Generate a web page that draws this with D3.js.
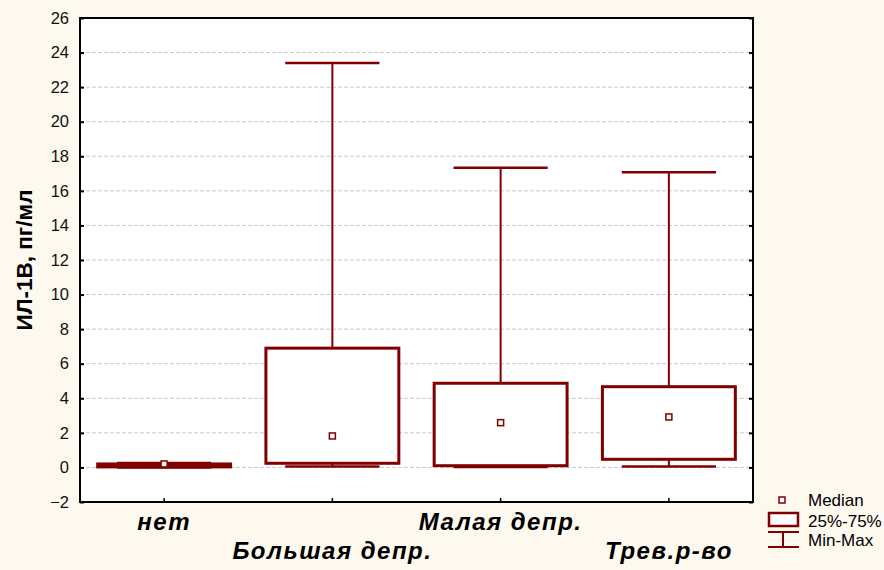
<!DOCTYPE html>
<html>
<head>
<meta charset="utf-8">
<script src="https://cdn.jsdelivr.net/npm/d3@7"></script>
<style>
  body { margin: 0; background: #fdf9ef; }
  svg { display: block; font-family: "Liberation Sans", Arial, sans-serif; }
</style>
</head>
<body>
<script>
// Data
const categories = ["нет", "Большая депр.", "Малая депр.", "Трев.р-во"];
const minVals = [0.0, 0.05, 0.03, 0.05];
const q1Vals = [0.03, 0.24, 0.1, 0.47];
const medianVals = [0.2, 1.82, 2.59, 2.92];
const q3Vals = [0.2, 6.9, 4.87, 4.67];
const maxVals = [0.25, 23.4, 17.34, 17.07];
const yTicks = [-2, 0, 2, 4, 6, 8, 10, 12, 14, 16, 18, 20, 22, 24, 26];

const width = 884, height = 570;
const plot = {left: 80, right: 753, top: 18, bottom: 502};
const red = "#800000";

const data = categories.map((c, i) => ({
    cat: c, min: minVals[i], q1: q1Vals[i], med: medianVals[i], q3: q3Vals[i], max: maxVals[i]
}));

const svg = d3.select("body").append("svg")
    .attr("width", width)
    .attr("height", height);

// X and Y scales
const xScale = d3.scaleBand()
    .domain(categories)
    .range([plot.left, plot.right]);
const yScale = d3.scaleLinear()
    .domain([-2, 26])
    .range([plot.bottom, plot.top]);

const boxW = xScale.bandwidth() * 0.79;
const capW = xScale.bandwidth() * 0.56;

// Plot background
svg.append("rect")
    .attr("x", plot.left).attr("y", plot.top)
    .attr("width", plot.right - plot.left).attr("height", plot.bottom - plot.top)
    .attr("fill", "#fff");

// Grid lines
svg.append("g")
    .selectAll("line")
    .data(yTicks.filter(t => t > -2 && t < 26))
    .enter().append("line")
    .attr("x1", plot.left).attr("x2", plot.right)
    .attr("y1", d => yScale(d)).attr("y2", d => yScale(d))
    .attr("stroke", "#c8c8c8")
    .attr("stroke-dasharray", "4,2");

// Left axis
const yAxis = svg.append("g")
    .attr("transform", "translate(" + plot.left + ",0)")
    .call(d3.axisLeft(yScale).tickValues(yTicks).tickSize(-4).tickPadding(11));
yAxis.select(".domain").remove();
yAxis.selectAll(".tick line").attr("stroke", "#000").attr("stroke-width", 2);
yAxis.selectAll(".tick text")
    .attr("font-size", 16.5)
    .attr("font-family", "Liberation Sans, Arial, sans-serif")
    .attr("fill", "#111");

// Right axis ticks
const yAxisR = svg.append("g")
    .attr("transform", "translate(" + plot.right + ",0)")
    .call(d3.axisRight(yScale).tickValues(yTicks).tickSize(-4).tickFormat(""));
yAxisR.select(".domain").remove();
yAxisR.selectAll(".tick line").attr("stroke", "#000").attr("stroke-width", 2);

// Bottom axis ticks (inward)
const xAxis = svg.append("g")
    .attr("transform", "translate(0," + plot.bottom + ")")
    .call(d3.axisBottom(xScale).tickSize(-4).tickFormat(""));
xAxis.select(".domain").remove();
xAxis.selectAll(".tick line").attr("stroke", "#000").attr("stroke-width", 1.5);

// Frame
svg.append("rect")
    .attr("x", plot.left).attr("y", plot.top)
    .attr("width", plot.right - plot.left).attr("height", plot.bottom - plot.top)
    .attr("fill", "none")
    .attr("stroke", "#000")
    .attr("stroke-width", 2);

// Boxes
const groups = svg.selectAll(".box")
    .data(data)
    .enter().append("g")
    .attr("class", "box")
    .attr("transform", d => "translate(" + (xScale(d.cat) + xScale.bandwidth() / 2) + ",0)");

// Whisker vertical lines
groups.append("line")
    .attr("x1", 0).attr("x2", 0)
    .attr("y1", d => yScale(d.q3)).attr("y2", d => yScale(d.max))
    .attr("stroke", red).attr("stroke-width", 2);
groups.append("line")
    .attr("x1", 0).attr("x2", 0)
    .attr("y1", d => yScale(d.q1)).attr("y2", d => yScale(d.min))
    .attr("stroke", red).attr("stroke-width", 2);

// Whisker caps
groups.append("line")
    .attr("x1", -capW / 2).attr("x2", capW / 2)
    .attr("y1", d => yScale(d.max)).attr("y2", d => yScale(d.max))
    .attr("stroke", red).attr("stroke-width", 2.5);
groups.append("line")
    .attr("x1", -capW / 2).attr("x2", capW / 2)
    .attr("y1", d => yScale(d.min)).attr("y2", d => yScale(d.min))
    .attr("stroke", red).attr("stroke-width", 2.5);

// Box rectangles
groups.append("rect")
    .attr("x", -boxW / 2)
    .attr("width", boxW)
    .attr("y", d => yScale(d.q3))
    .attr("height", d => yScale(d.q1) - yScale(d.q3))
    .attr("fill", "#fff")
    .attr("stroke", red)
    .attr("stroke-width", 3);

// Median markers
groups.append("rect")
    .attr("x", -3)
    .attr("y", d => yScale(d.med) - 3)
    .attr("width", 6).attr("height", 6)
    .attr("fill", "#fff")
    .attr("stroke", red)
    .attr("stroke-width", 1.5);

// Category labels, alternating rows
svg.selectAll(".catLabel")
    .data(categories)
    .enter().append("text")
    .attr("class", "catLabel")
    .attr("x", d => xScale(d) + xScale.bandwidth() / 2)
    .attr("y", (d, i) => i % 2 === 0 ? 530 : 559)
    .attr("text-anchor", "middle")
    .attr("font-size", 24)
    .attr("font-weight", "bold")
    .attr("font-style", "italic")
    .attr("letter-spacing", 1.5)
    .text(d => d);

// Y axis label
svg.append("text")
    .attr("transform", "translate(32,260) rotate(-90)")
    .attr("text-anchor", "middle")
    .attr("font-size", 22.5)
    .attr("font-weight", "bold")
    .text("ИЛ-1В, пг/мл");

// Legend
const legend = svg.append("g").attr("font-size", 17);
legend.append("rect")
    .attr("x", 779).attr("y", 497).attr("width", 6).attr("height", 6)
    .attr("fill", "#fff").attr("stroke", red).attr("stroke-width", 1.5);
legend.append("text").attr("x", 808).attr("y", 506).text("Median");

legend.append("rect")
    .attr("x", 769).attr("y", 513).attr("width", 29).attr("height", 13)
    .attr("fill", "#fff").attr("stroke", red).attr("stroke-width", 2.5);
legend.append("text").attr("x", 808).attr("y", 527).text("25%-75%");

legend.append("line")
    .attr("x1", 768).attr("x2", 799).attr("y1", 532).attr("y2", 532)
    .attr("stroke", red).attr("stroke-width", 2);
legend.append("line")
    .attr("x1", 783).attr("x2", 783).attr("y1", 532).attr("y2", 547)
    .attr("stroke", red).attr("stroke-width", 2);
legend.append("line")
    .attr("x1", 768).attr("x2", 799).attr("y1", 547).attr("y2", 547)
    .attr("stroke", red).attr("stroke-width", 2);
legend.append("text").attr("x", 808).attr("y", 546).text("Min-Max");
</script>
</body>
</html>
